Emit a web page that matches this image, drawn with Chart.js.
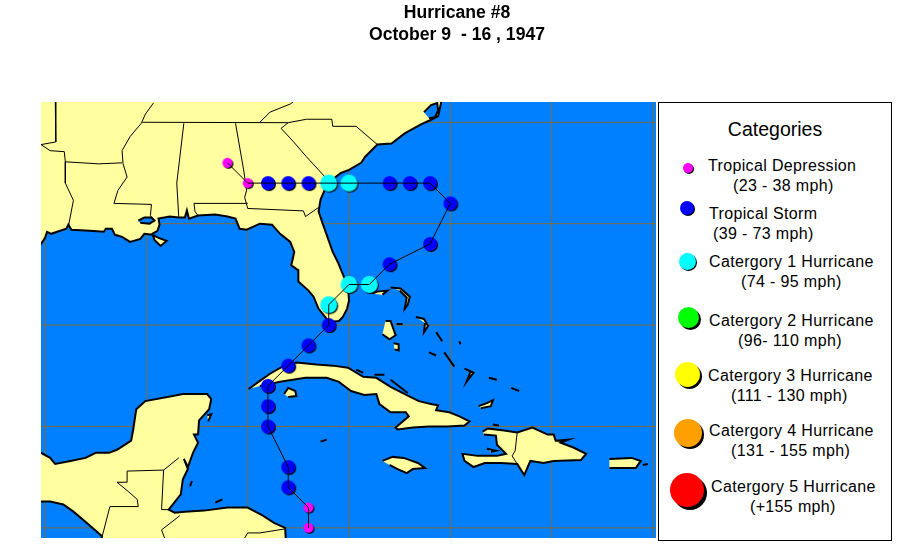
<!DOCTYPE html>
<html>
<head>
<meta charset="utf-8">
<title>Hurricane #8</title>
<script src="https://cdn.jsdelivr.net/npm/chart.js@4"></script>
<style>
    html, body { margin: 0; padding: 0; background: #ffffff; }
    body { position: relative; width: 905px; height: 548px; overflow: hidden; font-family: "Liberation Sans", Arial, sans-serif; color: #000; }
    canvas { position: absolute; left: 0; top: 0; }
    .title { position: absolute; left: 337px; width: 240px; text-align: center; font-weight: bold; font-size: 17.6px; line-height: 20px; white-space: pre; }
    #panel { position: absolute; left: 658px; top: 102px; width: 232px; height: 437px; border: 1px solid #000; background: #fff; }
    .legend-head { position: absolute; left: 717px; top: 118px; width: 116px; text-align: center; font-size: 19.5px; }
    .legend-line { position: absolute; font-size: 16px; letter-spacing: 0.35px; white-space: pre; line-height: 20px; }
    .legend-dot { position: absolute; border-radius: 50%; }
</style>
</head>
<body>
<canvas id="mapChart" width="905" height="548"></canvas>
<div class="title" style="top:2px">Hurricane #8</div>
<div class="title" style="top:24px">October 9  - 16 , 1947</div>
<div id="panel"></div>
<div class="legend-head">Categories</div>
<div id="legend"></div>
<script>
// Track: one fix per dot, from the Honduras coast to Alabama
const trackLon = [-82, -82, -83, -83, -84, -84, -84, -83, -82, -81, -81, -80, -79, -78, -76, -75, -76, -77, -78, -80, -81, -82, -83, -84, -85, -86];
const trackLat = [15, 16, 17, 18, 20, 21, 22, 23, 24, 25, 26, 27, 27, 28, 29, 31, 32, 32, 32, 32, 32, 32, 32, 32, 32, 33];
const trackCat = ['TD', 'TD', 'TS', 'TS', 'TS', 'TS', 'TS', 'TS', 'TS', 'TS', 'C1', 'C1', 'C1', 'TS', 'TS', 'TS', 'TS', 'TS', 'TS', 'C1', 'C1', 'TS', 'TS', 'TS', 'TD', 'TD'];

// Legend
const legendNames = ['Tropical Depression', 'Tropical Storm', 'Catergory 1 Hurricane', 'Catergory 2 Hurricane', 'Catergory 3 Hurricane', 'Catergory 4 Hurricane', 'Catergory 5 Hurricane'];
const legendRanges = ['(23 - 38 mph)', '(39 - 73 mph)', '(74 - 95 mph)', '(96- 110 mph)', '(111 - 130 mph)', '(131 - 155 mph)', '(+155 mph)'];
const legendColors = ['#ff00ff', '#0000ff', '#00ffff', '#00ff00', '#ffff00', '#ff9f00', '#ff0000'];

// Graticule
const lonLines = [-95, -90, -85, -80, -75, -70, -65];
const latLines = [15, 20, 25, 30, 35];
const lonMin = -95.2, lonMax = -64.85, latMin = 14.5, latMax = 36;

// Coastlines as [lon, lat]
const usMainland = [[-97, 29], [-95.2, 29], [-95, 29.3], [-94.9, 29.6], [-94.7, 29.5], [-93.95, 29.75], [-93.85, 29.95], [-93.7, 29.7], [-92.8, 29.65], [-92.1, 29.6], [-92, 29.75], [-91.7, 29.75], [-91.55, 29.45], [-91.2, 29.35], [-90.8, 29.1], [-90.3, 29.25], [-90.1, 29.5], [-89.7, 29.45], [-89.4, 29.3], [-89, 29.15], [-89.3, 28.9], [-89.6, 29.2], [-89.7, 29.5], [-89.45, 29.65], [-89.35, 29.95], [-89.4, 30.25], [-88.85, 30.35], [-88.4, 30.3], [-88.1, 30.3], [-88, 30.65], [-87.9, 30.25], [-87.45, 30.4], [-86.6, 30.45], [-86, 30.35], [-85.6, 30.25], [-85.4, 29.75], [-85.05, 29.7], [-84.4, 30], [-83.8, 29.95], [-83.4, 29.5], [-82.9, 29.1], [-82.7, 28.6], [-82.85, 27.95], [-82.5, 27.7], [-82.5, 27.15], [-82, 26.7], [-81.75, 26.4], [-81.5, 25.8], [-81.1, 25.3], [-80.9, 25.15], [-80.5, 25.2], [-80.3, 25.4], [-80.1, 25.8], [-80, 26.2], [-80.05, 26.9], [-80.3, 27.5], [-80.55, 28.1], [-80.8, 28.6], [-81.1, 29.45], [-81.3, 30], [-81.5, 30.6], [-81.4, 31.2], [-81.05, 32], [-80.4, 32.5], [-80, 32.65], [-79.4, 33], [-79.2, 33.3], [-78.6, 33.9], [-77.9, 33.95], [-77.25, 34.45], [-76.45, 34.9], [-76, 35.1], [-75.6, 35.3], [-75.45, 36], [-75.4, 37], [-97, 37]];
const lakePontchartrain = [[-90.4, 30.15], [-90.1, 30.3], [-89.75, 30.3], [-89.6, 30.15], [-89.85, 30], [-90.3, 30.05]];
const pamlicoSound = [[-76.05, 35.2], [-75.75, 35.25], [-75.6, 35.6], [-75.65, 35.95], [-75.95, 35.85], [-76.3, 35.5]];
const centralAmerica = [[-97, 18.7], [-95.2, 18.7], [-94.75, 18.45], [-94.5, 18.15], [-93.75, 18.3], [-93, 18.45], [-92.5, 18.7], [-91.85, 18.7], [-91.45, 18.85], [-90.75, 19.3], [-90.65, 19.85], [-90.5, 20.85], [-90.05, 21.25], [-88.7, 21.5], [-88.2, 21.6], [-87, 21.6], [-86.8, 21.35], [-86.9, 20.85], [-87.4, 20.3], [-87.45, 19.6], [-87.65, 19.6], [-87.45, 19.2], [-87.7, 18.7], [-87.95, 18], [-88.15, 18.4], [-87.95, 17.9], [-88.2, 17.4], [-88.3, 16.65], [-88.9, 15.9], [-88.6, 15.75], [-88.1, 15.8], [-87.15, 15.85], [-86, 16], [-85, 16], [-84.25, 15.6], [-83.7, 15.25], [-83.15, 15], [-83.1, 14], [-92.2, 14], [-92.2, 14.6], [-92.95, 15.25], [-93.6, 15.8], [-94.1, 16.15], [-94.75, 16.3], [-97, 16.3]];
const cuba = [[-84.95, 21.85], [-84.4, 22.25], [-83.9, 22.6], [-83.2, 23], [-82.6, 23.15], [-81.6, 23.05], [-80.8, 23], [-80.05, 22.9], [-79.3, 22.45], [-78.65, 22.4], [-77.95, 21.95], [-76.95, 21.45], [-76.55, 21.25], [-75.9, 21.1], [-75.6, 21.05], [-75.7, 20.8], [-75.05, 20.7], [-74.55, 20.5], [-74.05, 20.25], [-74.3, 20.05], [-75.15, 20], [-76.05, 20], [-76.85, 19.95], [-77.6, 19.85], [-77.7, 19.95], [-77.05, 20.5], [-77.2, 20.7], [-77.95, 20.7], [-78.5, 21.1], [-78.65, 21.6], [-79.25, 21.55], [-79.9, 21.75], [-80.5, 22.2], [-81.1, 22.4], [-82.15, 22.4], [-83.4, 22.2], [-83.9, 22.1], [-84.4, 22]];
const jamaica = [[-78.35, 18.3], [-77.85, 18.5], [-77.3, 18.45], [-76.6, 18.2], [-76.25, 17.95], [-76.85, 17.9], [-77.15, 17.7], [-77.6, 17.9], [-78, 18.1]];
const hispaniola = [[-73.4, 19.75], [-73.15, 19.9], [-72.35, 19.8], [-71.7, 19.7], [-70.95, 19.95], [-70.2, 19.6], [-69.9, 19.6], [-69.8, 19.3], [-69.15, 19.35], [-69.55, 19.2], [-68.9, 18.95], [-68.3, 18.65], [-68.55, 18.35], [-69.9, 18.3], [-70.4, 18.2], [-71.05, 18.3], [-71.35, 17.6], [-71.7, 18.15], [-72.5, 18.2], [-73.3, 18.2], [-73.85, 18], [-74.3, 18.3], [-74.4, 18.65], [-73.65, 18.55], [-72.7, 18.55], [-72.25, 18.65], [-72.7, 19.1], [-72.75, 19.55], [-73.35, 19.6]];
const puertoRico = [[-67.15, 18.4], [-66.05, 18.45], [-65.6, 18.3], [-65.85, 17.95], [-67.15, 17.95]];
const juventud = [[-83.2, 21.6], [-83, 21.9], [-82.65, 21.75], [-82.6, 21.5], [-83, 21.45]];
const gonave = [[-73.2, 18.9], [-72.75, 18.8], [-73, 18.75]];
const cozumel = [[-87, 20.55], [-86.8, 20.6], [-86.95, 20.25]];
const andros = [[-78.2, 25.2], [-77.95, 25.2], [-77.7, 24.5], [-78, 24.3], [-78.35, 24.55]];
const southAndros = [[-77.8, 24.1], [-77.55, 24.05], [-77.55, 23.75], [-77.75, 23.8]];
const grandBahama = [[-78.85, 26.55], [-78.6, 26.65], [-78.1, 26.7], [-78.35, 26.5]];
const abaco = [[-77.95, 26.85], [-77.45, 26.8], [-77, 26.4], [-77.1, 26], [-77.25, 25.8], [-77.15, 26.35], [-77.5, 26.7]];
const inagua = [[-73.6, 21], [-73.2, 21.15], [-72.9, 21.3], [-73, 21], [-73.5, 20.9]];
const acklins = [[-74.3, 22.85], [-73.85, 22.65], [-74.2, 22.2], [-74, 22.7]];
const eleuthera = [[-76.7, 25.4], [-76.3, 25.3], [-76.1, 24.95], [-76.3, 24.65], [-76.25, 25.1]];
const islands = [andros, southAndros, grandBahama, abaco, inagua, acklins, eleuthera, juventud, gonave, cozumel, puertoRico, jamaica, hispaniola, cuba, centralAmerica, usMainland];

// Specks that only show as black strokes at this size
const cays = [
    [[-75.7, 24.65], [-75.4, 24.2]], [[-76.05, 23.65], [-75.7, 23.5]], [[-75.3, 23.65], [-74.8, 22.95]],
    [[-74.55, 24.2], [-74.5, 24.05]], [[-73.1, 22.4], [-72.7, 22.3]], [[-72, 21.9], [-71.6, 21.75]],
    [[-79.65, 22.8], [-79.3, 22.65]], [[-78.75, 22.55], [-78.25, 22.55]], [[-77.95, 22.3], [-77.1, 21.65]],
    [[-81.4, 19.25], [-81.1, 19.35]], [[-86.6, 16.25], [-86.25, 16.4]], [[-87.85, 17.05], [-87.75, 17.3]],
    [[-72.9, 20.1], [-72.6, 20.05]], [[-65.5, 18.1], [-65.25, 18.15]], [[-77.65, 25.05], [-77.35, 25.05]]
];

// State and national borders
const borders = [
    [[-94.5, 36.4], [-94.47, 34.03], [-95.2, 33.9]],
    [[-95.2, 33.9], [-94.75, 33.6], [-94.05, 33.55], [-94, 33.05], [-94, 32], [-93.6, 31.15], [-93.85, 29.85]],
    [[-94, 33.05], [-92.35, 32.95], [-91.2, 33]],
    [[-89.65, 35.95], [-90.05, 35.4], [-90.25, 34.95], [-90.8, 34.3], [-91.2, 33.6], [-91.15, 32.95], [-90.95, 32.3], [-91.4, 31.65], [-91.6, 31], [-89.75, 30.95], [-89.8, 30.4], [-89.6, 30.15]],
    [[-90.2, 35], [-83, 34.98], [-82.1, 35.15], [-80.85, 35.15], [-80.8, 34.8], [-79.65, 34.8], [-78.6, 33.9]],
    [[-83, 34.98], [-83.35, 34.7], [-82.75, 34.05], [-82.1, 33.3], [-81.5, 32.65], [-81.05, 32.15]],
    [[-84.4, 35], [-83.9, 35.5], [-82.9, 35.9], [-82.5, 36.2]],
    [[-88.15, 34.95], [-88.5, 32], [-88.4, 30.3]],
    [[-85.6, 34.95], [-85.2, 32.65], [-85.05, 31.65], [-85.15, 31.3], [-85, 30.75], [-82.25, 30.63], [-82.15, 30.35], [-81.5, 30.8]],
    [[-87.45, 30.4], [-87.6, 30.6], [-87.65, 31], [-85, 31]],
    [[-92.2, 14.5], [-91.8, 16.05], [-90.4, 16.05], [-90.45, 16.4], [-90.9, 16.8], [-91.45, 17.25], [-90.95, 17.25], [-90.95, 17.8], [-89.15, 17.85], [-88.4, 18.45]],
    [[-89.15, 17.85], [-89.25, 15.9], [-88.9, 15.9]],
    [[-88.35, 15.6], [-89.25, 14.9], [-89.1, 14.5]],
    [[-85.15, 14.5], [-85, 14.75], [-84.4, 14.75], [-83.15, 14.95]],
    [[-71.7, 19.7], [-71.8, 18.8], [-71.95, 18.55], [-71.7, 18.15]]
];

const toPoints = pairs => pairs.map(p => ({ x: p[0], y: p[1] }));

// Round marker with the hard black shadow
function makeDot(color, diameter) {
    const c = document.createElement('canvas');
    const r = diameter / 2;
    const size = Math.ceil(diameter) + 6;
    c.width = size;
    c.height = size;
    const g = c.getContext('2d');
    g.fillStyle = '#000000';
    g.beginPath();
    g.arc(size / 2 + 1, size / 2 + 1, r, 0, Math.PI * 2);
    g.fill();
    g.fillStyle = color;
    g.beginPath();
    g.arc(size / 2, size / 2, r, 0, Math.PI * 2);
    g.fill();
    return c;
}

const datasets = [];

// order: higher numbers are drawn first
lonLines.forEach(lon => {
    datasets.push({ data: [{ x: lon, y: latMin }, { x: lon, y: latMax }], showLine: true, borderColor: '#7f6b3a', borderWidth: 1, pointRadius: 0, order: 11 });
});
latLines.forEach(lat => {
    datasets.push({ data: [{ x: lonMin, y: lat }, { x: lonMax, y: lat }], showLine: true, borderColor: '#7f6b3a', borderWidth: 1, pointRadius: 0, order: 11 });
});
islands.forEach(shape => {
    datasets.push({
        data: toPoints(shape),
        showLine: true,
        fill: 'shape',
        backgroundColor: '#ffffa0',
        borderColor: '#000000',
        borderWidth: 2,
        pointRadius: 0,
        order: 10
    });
});
[lakePontchartrain, pamlicoSound].forEach(shape => {
    datasets.push({
        data: toPoints(shape),
        showLine: true,
        fill: 'shape',
        backgroundColor: '#0080ff',
        borderColor: '#000000',
        borderWidth: 2,
        pointRadius: 0,
        order: 9
    });
});
borders.forEach(line => {
    datasets.push({ data: toPoints(line), showLine: true, borderColor: '#000000', borderWidth: 1, pointRadius: 0, order: 8 });
});
cays.forEach(line => {
    datasets.push({ data: toPoints(line), showLine: true, borderColor: '#000000', borderWidth: 2, pointRadius: 0, order: 8 });
});

const trackStyles = {
    TD: makeDot('#ff00ff', 10),
    TS: makeDot('#0000ff', 14),
    C1: makeDot('#00ffff', 17)
};
Object.keys(trackStyles).forEach(cat => {
    const pts = [];
    trackCat.forEach((c, i) => {
        if (c === cat) pts.push({ x: trackLon[i], y: trackLat[i] });
    });
    datasets.push({ data: pts, pointStyle: trackStyles[cat], pointRadius: 8, order: 2 });
});
datasets.push({
    data: trackLon.map((lon, i) => ({ x: lon, y: trackLat[i] })),
    showLine: true,
    borderColor: '#000000',
    borderWidth: 1,
    pointRadius: 0,
    order: 1
});

// Ocean behind everything
const oceanPlugin = {
    id: 'ocean',
    beforeDraw(chart) {
        const a = chart.chartArea;
        chart.ctx.save();
        chart.ctx.fillStyle = '#0080ff';
        chart.ctx.fillRect(a.left, a.top, a.width, a.height);
        chart.ctx.restore();
    }
};

new Chart(document.getElementById('mapChart').getContext('2d'), {
    type: 'scatter',
    data: { datasets: datasets },
    options: {
        responsive: false,
        animation: false,
        layout: { padding: { left: 41, right: 249, top: 102, bottom: 10 } },
        plugins: { legend: { display: false }, tooltip: { enabled: false } },
        scales: {
            x: { type: 'linear', display: false, min: lonMin, max: lonMax },
            y: { type: 'linear', display: false, min: latMin, max: latMax }
        }
    },
    plugins: [oceanPlugin]
});

// Legend text and swatches, placed by hand in the panel
const legendRows = [
    { top1: 156, top2: 176, x1: 708, x2: 733, dotX: 688, dotY: 168, d: 10, s: 1 },
    { top1: 204, top2: 224, x1: 709, x2: 713, dotX: 687, dotY: 208, d: 14, s: 1 },
    { top1: 252, top2: 272, x1: 709, x2: 741, dotX: 687, dotY: 261, d: 17, s: 1 },
    { top1: 311, top2: 331, x1: 709, x2: 738, dotX: 688, dotY: 317, d: 21, s: 2 },
    { top1: 366, top2: 386, x1: 708, x2: 731, dotX: 687, dotY: 374, d: 25, s: 2 },
    { top1: 421, top2: 441, x1: 709, x2: 731, dotX: 688, dotY: 433, d: 28, s: 2 },
    { top1: 477, top2: 497, x1: 711, x2: 750, dotX: 687, dotY: 490, d: 34, s: 3 }
];
const legendBox = document.getElementById('legend');
legendRows.forEach((row, i) => {
    const dot = document.createElement('div');
    dot.className = 'legend-dot';
    dot.style.cssText = 'left:' + (row.dotX - row.d / 2) + 'px;top:' + (row.dotY - row.d / 2) + 'px;width:' + row.d + 'px;height:' + row.d + 'px;background:' + legendColors[i] + ';box-shadow:' + row.s + 'px ' + row.s + 'px 0 #000';
    legendBox.appendChild(dot);
    [[legendNames[i], row.x1, row.top1], [legendRanges[i], row.x2, row.top2]].forEach(t => {
        const el = document.createElement('div');
        el.className = 'legend-line';
        el.textContent = t[0];
        el.style.left = t[1] + 'px';
        el.style.top = t[2] + 'px';
        legendBox.appendChild(el);
    });
});
</script>
</body>
</html>
